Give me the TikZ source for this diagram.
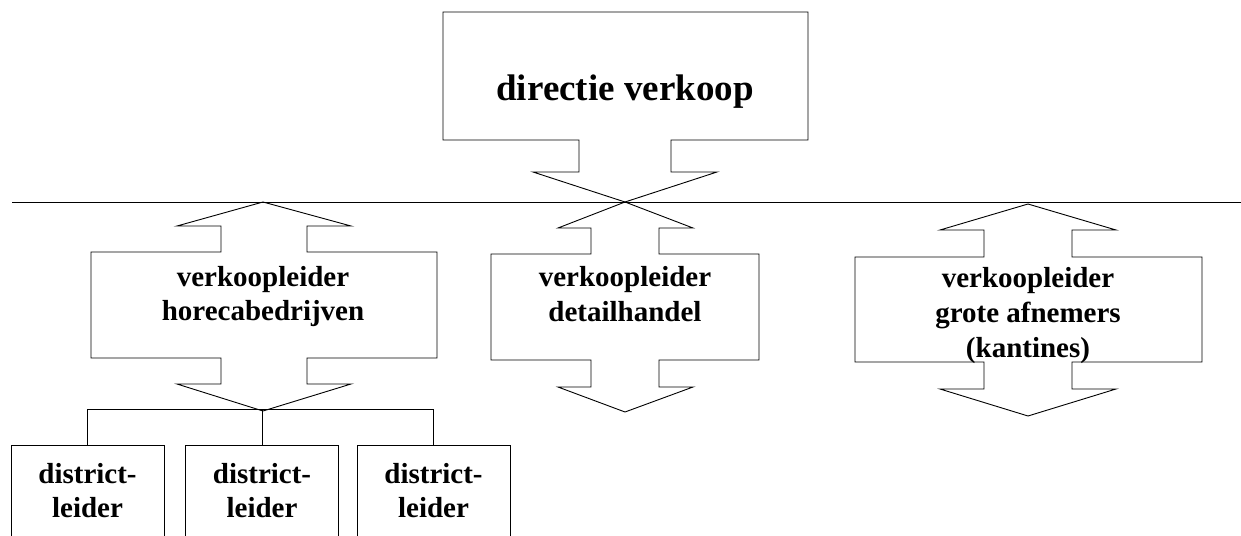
\documentclass[tikz,border=0pt]{standalone}
\usepackage{fontspec}
\setmainfont{Liberation Serif}
\begin{document}
\begin{tikzpicture}[x=1pt,y=-1pt,
  outline/.style={draw=black,line width=0.9pt,line join=miter},
  conn/.style={draw=black,line width=0.9pt},
  lbl/.style={anchor=base,inner sep=0pt,font=\fontsize{29}{35}\selectfont\bfseries},
  biglbl/.style={anchor=base,inner sep=0pt,font=\fontsize{37}{44}\selectfont\bfseries},
  dbox/.style={draw=black,line width=0.9pt,minimum width=153pt,minimum height=100pt,anchor=north,inner sep=0pt}]
\useasboundingbox (0,0) rectangle (1241,535);

% top callout: directie verkoop
\draw[outline] (443,12) -- (808,12) -- (808,140) -- (671,140) -- (671,172) -- (717,172)
  -- (625,202) -- (533,172) -- (579,172) -- (579,140) -- (443,140) -- cycle;
\node[biglbl] (dir) at (625,100) {directie verkoop};

% horizontal line
\coordinate (hl) at (12,202);
\coordinate (hr) at (1241,202);
\draw[conn] (hl) -- (hr);

% verkoopleider horecabedrijven
\draw[outline] (263,202) -- (351,226) -- (307,226) -- (307,252) -- (437,252) -- (437,358)
  -- (307,358) -- (307,384) -- (351,384) -- (263,411) -- (177,384) -- (221,384)
  -- (221,358) -- (91,358) -- (91,252) -- (221,252) -- (221,226) -- (177,226) -- cycle;
\node[lbl] (h1) at (263,286) {verkoopleider};
\node[lbl] (h2) at (263,320) {horecabedrijven};

% verkoopleider detailhandel
\draw[outline] (625,202) -- (693,228) -- (659,228) -- (659,254) -- (759,254) -- (759,360)
  -- (659,360) -- (659,387) -- (693,387) -- (625,412) -- (558,387) -- (591,387)
  -- (591,360) -- (491,360) -- (491,254) -- (591,254) -- (591,228) -- (558,228) -- cycle;
\node[lbl] (m1) at (625,286) {verkoopleider};
\node[lbl] (m2) at (625,321) {detailhandel};

% verkoopleider grote afnemers (kantines)
\draw[outline] (1028,204) -- (1116,230) -- (1072,230) -- (1072,257) -- (1202,257) -- (1202,362)
  -- (1072,362) -- (1072,389) -- (1116,389) -- (1028,416) -- (940,389) -- (984,389)
  -- (984,362) -- (855,362) -- (855,257) -- (984,257) -- (984,230) -- (940,230) -- cycle;
\node[lbl] (r1) at (1028,287) {verkoopleider};
\node[lbl] (r2) at (1028,322) {grote afnemers};
\node[lbl] (r3) at (1028,357) {(kantines)};

% district boxes
\node[dbox] (d1) at (87.5,445) {};
\node[dbox] (d2) at (262,445) {};
\node[dbox] (d3) at (433.5,445) {};
\node[lbl] (d1a) at (87.5,483) {district-};
\node[lbl] (d1b) at (87.5,517) {leider};
\node[lbl] (d2a) at (262,483) {district-};
\node[lbl] (d2b) at (262,517) {leider};
\node[lbl] (d3a) at (433.5,483) {district-};
\node[lbl] (d3b) at (433.5,517) {leider};

% connectors to district boxes
\coordinate (j1) at (87.5,409);
\coordinate (j2) at (262,409);
\coordinate (j3) at (433.5,409);
\draw[conn] (j1) -- (j3);
\draw[conn] (j1) -- (d1.north);
\draw[conn] (j2) -- (d2.north);
\draw[conn] (j3) -- (d3.north);
\end{tikzpicture}
\end{document}
